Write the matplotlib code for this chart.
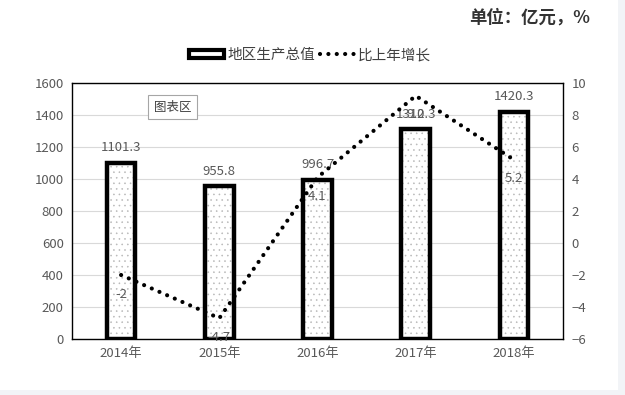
import numpy as np
import matplotlib
matplotlib.use("Agg")
import matplotlib.pyplot as plt
from matplotlib.patches import Rectangle
from matplotlib.lines import Line2D

plt.rcParams['font.family'] = ['Noto Sans CJK SC', 'DejaVu Sans']
plt.rcParams['hatch.linewidth'] = 0.4

# 数据
years = ['2014年', '2015年', '2016年', '2017年', '2018年']
gdp = [1101.3, 955.8, 996.7, 1310.3, 1420.3]
growth = [-2, -4.7, 4.1, 9.2, 5.2]
left_ticks = [0, 200, 400, 600, 800, 1000, 1200, 1400, 1600]
right_ticks = [-6, -4, -2, 0, 2, 4, 6, 8, 10]

grey = '#595959'

fig = plt.figure(figsize=(6.25, 3.95), dpi=100)
fig.patch.set_facecolor('white')

# 底部和右侧浅灰边
fig.patches.append(Rectangle((0, 0), 1, 5 / 395, transform=fig.transFigure,
                             facecolor='#f2f4f7', edgecolor='none', zorder=-1))
fig.patches.append(Rectangle((618 / 625, 0), 7 / 625, 1, transform=fig.transFigure,
                             facecolor='#f2f4f7', edgecolor='none', zorder=-1))

ax = fig.add_axes([72 / 625, 1 - 339 / 395, 491 / 625, 256 / 395])
x = np.arange(len(years))

# 柱子: 点状填充 + 粗黑边
ax.bar(x, gdp, width=0.29, color='white', edgecolor='#b8b8b8', hatch='...',
       linewidth=0, zorder=2)
ax.bar(x, gdp, width=0.29, fill=False, edgecolor='black', linewidth=3.2, zorder=3)

for xi, v in zip(x, gdp):
    ax.annotate(f'{v}', (xi, v), xytext=(0, 6), textcoords='offset points',
                ha='center', va='bottom', fontsize=9.5, color=grey, zorder=5)

ax.set_xlim(-0.5, len(years) - 0.5)
ax.set_ylim(0, 1600)
ax.set_yticks(left_ticks)
ax.set_xticks(x)
ax.set_xticklabels(years)
ax.grid(axis='y', color='#d9d9d9', linewidth=0.8, zorder=0)
ax.set_axisbelow(True)
ax.tick_params(axis='both', length=0, colors=grey, labelsize=9.5, pad=6)
for sp in ax.spines.values():
    sp.set_color('black')
    sp.set_linewidth(1.0)

# 折线
ax2 = ax.twinx()
ax2.plot(x, growth, color='black', linewidth=3, linestyle=(0, (0.01, 2.0)),
         dash_capstyle='round', zorder=4)
for xi, v in zip(x, growth):
    ax2.annotate(f'{v:g}', (xi, v), xytext=(0, -9), textcoords='offset points',
                 ha='center', va='top', fontsize=9.5, color=grey, zorder=5)
ax2.set_ylim(-6, 10)
ax2.set_yticks(right_ticks)
ax2.tick_params(axis='y', length=0, colors=grey, labelsize=9.5, pad=6)
for sp in ax2.spines.values():
    sp.set_visible(False)

# 图表区 标签框
ax.text(0.205, 0.905, '图表区', transform=ax.transAxes, ha='center', va='center',
        fontsize=9, color='#404040', zorder=6,
        bbox=dict(boxstyle='square,pad=0.45', facecolor='white', edgecolor='#a6a6a6',
                  linewidth=0.8))

# 图例
handles = [Rectangle((0, 0), 1, 1, facecolor='white', edgecolor='black', linewidth=3),
           Line2D([0], [0], color='black', linewidth=3, linestyle=(0, (0.01, 2.0)),
                  dash_capstyle='round')]
fig.legend(handles, ['地区生产总值', '比上年增长'], loc='center',
           bbox_to_anchor=(310 / 625, 1 - 55 / 395), ncol=2, frameon=False,
           fontsize=10.5, handlelength=2.4, handleheight=0.5, handletextpad=0.2,
           columnspacing=0.3, labelcolor='#404040')

# 单位
fig.text(590 / 625, 1 - 18 / 395, '单位：亿元，%', ha='right', va='center',
         fontsize=12.5, fontweight='bold', color='#333333')

fig.savefig('out.png', dpi=100)
